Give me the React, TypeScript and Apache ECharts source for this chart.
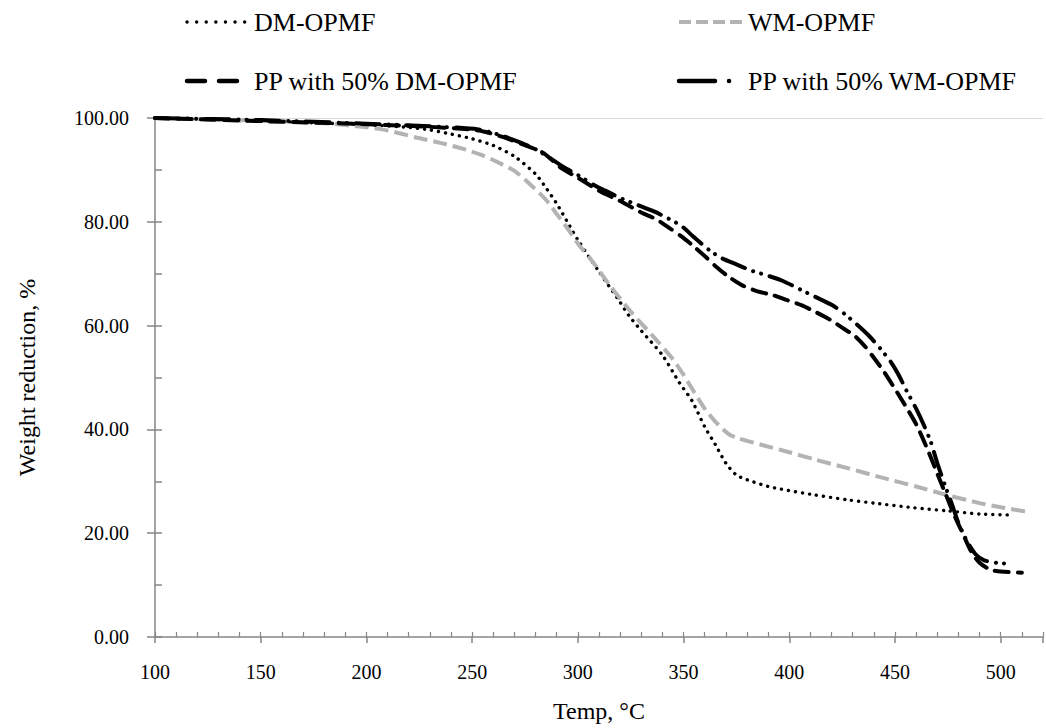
import React, { useEffect, useRef } from "react";
import * as echarts from "echarts";

// ---- data ----
const dmTemp = [100, 120, 140, 160, 180, 200, 220, 230, 240, 250, 260, 270, 280, 285, 290, 295, 300, 310, 320, 324, 330, 340, 348, 354, 360, 365, 370, 375, 380, 390, 396, 410, 428, 440, 459, 475, 490, 506];
const dmWeight = [100, 99.8, 99.5, 99.3, 99.0, 98.7, 98.2, 97.7, 96.9, 96.0, 94.7, 92.6, 89.2, 86.5, 83.5, 80.0, 76.5, 70.4, 64.5, 62.0, 59.0, 54.3, 49.0, 45.5, 40.5, 37.1, 33.5, 31.2, 30.3, 29.0, 28.5, 27.5, 26.4, 25.8, 24.9, 24.3, 23.7, 23.5];

const wmTemp = [100, 150, 180, 200, 210, 224, 235, 247, 255, 263, 270, 278, 285, 290, 295, 300, 307, 315, 325, 335, 345, 350, 355, 360, 365, 371, 375, 380, 388, 400, 412, 428, 443, 460, 475, 490, 500, 513];
const wmWeight = [100, 99.5, 99.0, 98.2, 97.6, 96.2, 95.2, 93.9, 92.8, 91.3, 89.8, 87.0, 84.2, 81.5, 78.8, 75.8, 72.3, 67.8, 62.7, 58.2, 53.5, 50.5, 47.2, 44.0, 41.5, 39.2, 38.4, 37.8, 36.9, 35.6, 34.2, 32.5, 30.8, 29.0, 27.3, 25.8, 25.0, 24.1];

const ppDmTemp = [100, 150, 200, 230, 253, 264, 278, 284, 292, 300, 310, 320, 330, 337, 344, 349, 355, 360, 365, 371, 378, 385, 392, 399, 406, 413, 419, 425, 431, 436, 440, 445, 450, 455, 460, 465, 470, 474, 478, 482, 486, 490, 495, 500, 510];
const ppDmWeight = [100, 99.4, 98.8, 98.3, 97.6, 96.4, 94.3, 93.2, 90.4, 88.5, 86.0, 84.0, 81.8, 80.5, 78.6, 77.2, 75.2, 73.4, 71.5, 69.5, 67.7, 66.6, 65.9, 64.9, 63.9, 62.5, 61.2, 59.6, 58.0, 55.9, 53.8, 51.0, 47.8, 44.5, 41.0, 36.5, 31.5, 27.5, 23.5, 20.0, 16.5, 14.3, 13.0, 12.6, 12.4];

const ppWmTemp = [100, 150, 200, 230, 253, 264, 278, 286, 293, 300, 308, 313, 320, 328, 336, 342, 349, 355, 362, 368, 375, 382, 390, 397, 405, 412, 420, 426, 432, 438, 443, 448, 452, 455, 460, 464, 467, 470, 474, 477, 480, 484, 488, 492, 498, 505];
const ppWmWeight = [100, 99.6, 98.9, 98.4, 97.8, 96.6, 94.4, 92.5, 90.6, 89.0, 87.0, 86.0, 84.6, 83.3, 82.0, 80.8, 79.2, 77.0, 74.6, 73.0, 71.8, 70.6, 69.6, 68.6, 67.0, 65.6, 64.0, 62.3, 60.2, 57.9, 55.6, 53.0, 50.3, 47.8, 44.0, 40.5, 37.5, 33.5, 28.8, 25.5, 22.0, 18.5, 16.0, 14.8, 14.3, 14.1];

const seriesNames = ["DM-OPMF", "WM-OPMF", "PP with 50% DM-OPMF", "PP with 50% WM-OPMF"];
const xTitle = "Temp, °C";
const yTitle = "Weight reduction, %";

const toPairs = (t: number[], w: number[]) => t.map((x, i) => [x, w[i]]);

const FONT = "'Liberation Serif', 'Times New Roman', serif";
const AXIS_COLOR = "#868686";

export default function App() {
  const ref = useRef<HTMLDivElement>(null);

  useEffect(() => {
    if (!ref.current) return;
    const chart = echarts.init(ref.current, null, { renderer: "svg" });

    const styles = [
      { color: "#000000", width: 3.4, type: [0.1, 7], cap: "round" },
      { color: "#b3b3b3", width: 4, type: [14, 6], cap: "butt" },
      { color: "#000000", width: 4, type: [14, 9], cap: "round" },
      { color: "#000000", width: 4, type: [24, 9, 0.1, 8, 0.1, 9], cap: "round" },
    ];
    const datas = [
      toPairs(dmTemp, dmWeight),
      toPairs(wmTemp, wmWeight),
      toPairs(ppDmTemp, ppDmWeight),
      toPairs(ppWmTemp, ppWmWeight),
    ];

    // legend drawn as graphic elements
    const legendLayout = [
      { x0: 187, x1: 247, tx: 254, y: 22, dash: [0.1, 9.5], w: 3.4 },
      { x0: 679, x1: 744, tx: 748, y: 22, dash: [12, 5], w: 4 },
      { x0: 187, x1: 241, tx: 254, y: 81, dash: [18, 14], w: 4.5 },
      { x0: 679, x1: 734, tx: 748, y: 81, dash: [36, 14, 0.1, 100], w: 4.5 },
    ];
    const legendGraphics: any[] = [];
    seriesNames.forEach((name, i) => {
      const L = legendLayout[i];
      const st = styles[i];
      legendGraphics.push({
        type: "line",
        shape: { x1: L.x0, y1: L.y, x2: L.x1, y2: L.y },
        style: {
          stroke: st.color,
          lineWidth: L.w,
          lineDash: L.dash,
          lineCap: i === 1 ? "butt" : "round",
        },
      });
      legendGraphics.push({
        type: "text",
        x: L.tx,
        y: L.y,
        style: {
          text: name,
          fontFamily: FONT,
          fontSize: 26,
          fill: "#000",
          verticalAlign: "middle",
        },
      });
    });

    chart.setOption({
      animation: false,
      backgroundColor: "#ffffff",
      grid: { left: 155, top: 118, right: 2, bottom: 87, containLabel: false },
      xAxis: [
        {
          type: "value",
          min: 100,
          max: 520,
          interval: 50,
          position: "bottom",
          name: xTitle,
          nameLocation: "middle",
          nameGap: 62,
          nameTextStyle: { fontFamily: FONT, fontSize: 24, color: "#000" },
          axisLine: { show: true, lineStyle: { color: AXIS_COLOR, width: 1.5 } },
          axisTick: { show: true, inside: false, length: 6, lineStyle: { color: AXIS_COLOR, width: 1.5 } },
          axisLabel: {
            color: "#000",
            fontFamily: FONT,
            fontSize: 20,
            margin: 25,
            formatter: (v: number) => (v <= 500 ? String(v) : ""),
          },
          splitLine: { show: false },
        },
        {
          type: "value",
          min: 100,
          max: 520,
          interval: 10,
          position: "bottom",
          axisLine: { show: false },
          axisTick: { show: true, inside: true, length: 5, lineStyle: { color: AXIS_COLOR, width: 1.2 } },
          axisLabel: { show: false },
          splitLine: { show: false },
        },
      ],
      yAxis: [
        {
          type: "value",
          min: 0,
          max: 100,
          interval: 20,
          position: "left",
          name: yTitle,
          nameLocation: "middle",
          nameGap: 116,
          nameRotate: 90,
          nameTextStyle: { fontFamily: FONT, fontSize: 24, color: "#000" },
          axisLine: { show: true, lineStyle: { color: AXIS_COLOR, width: 1.5 } },
          axisTick: { show: true, inside: false, length: 8, lineStyle: { color: AXIS_COLOR, width: 1.5 } },
          axisLabel: {
            color: "#000",
            fontFamily: FONT,
            fontSize: 20,
            margin: 26,
            formatter: (v: number) => v.toFixed(2),
          },
          splitLine: { show: false },
        },
        {
          type: "value",
          min: 0,
          max: 100,
          interval: 10,
          position: "left",
          axisLine: { show: false },
          axisTick: { show: true, inside: true, length: 7, lineStyle: { color: AXIS_COLOR, width: 1.5 } },
          axisLabel: { show: false },
          splitLine: { show: false },
        },
      ],
      series: datas.map((d, i) => ({
        name: seriesNames[i],
        type: "line",
        data: d,
        showSymbol: false,
        smooth: 0.25,
        z: 3 + i,
        lineStyle: {
          color: styles[i].color,
          width: styles[i].width,
          type: styles[i].type,
          cap: styles[i].cap,
        },
        markLine:
          i === 0
            ? {
                silent: true,
                symbol: "none",
                label: { show: false },
                lineStyle: { color: "#d9d9d9", type: "solid", width: 1.2 },
                data: [{ yAxis: 100 }],
                z: 1,
              }
            : undefined,
      })),
      graphic: legendGraphics,
    });

    return () => chart.dispose();
  }, []);

  return (
    <div
      ref={ref}
      style={{ position: "fixed", left: 0, top: 0, width: 1046, height: 728, background: "#fff" }}
    />
  );
}
